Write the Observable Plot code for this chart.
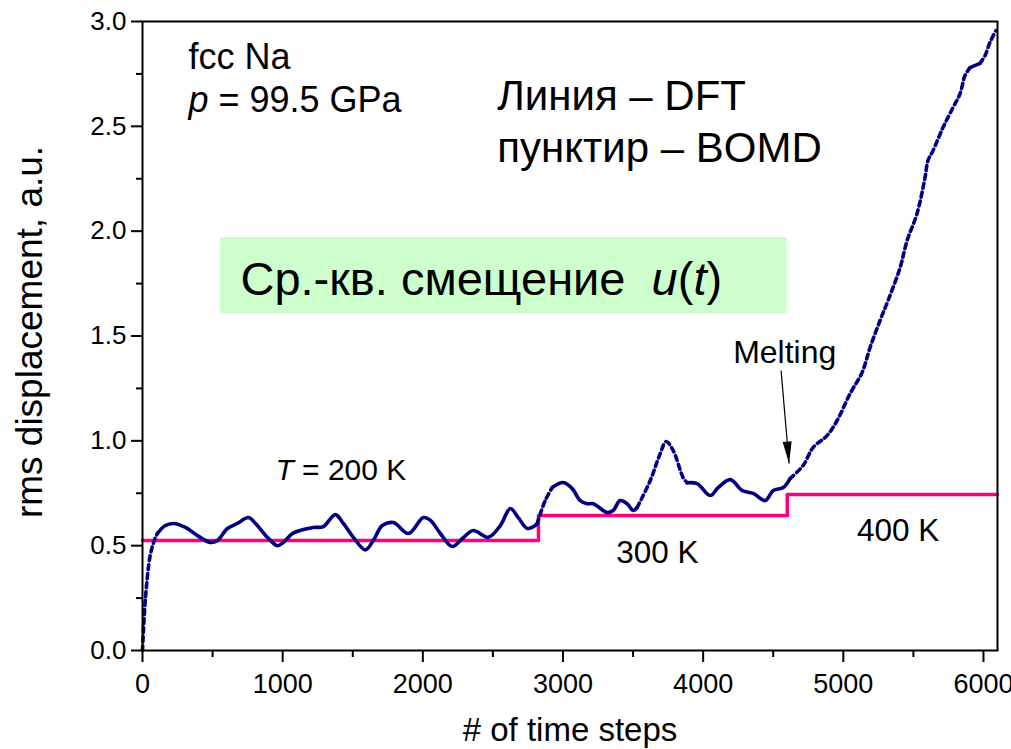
<!DOCTYPE html>
<html>
<head>
<meta charset="utf-8">
<script src="https://cdn.jsdelivr.net/npm/d3@7"></script>
<script src="https://cdn.jsdelivr.net/npm/@observablehq/plot@0.6"></script>
<style>
  body { margin: 0; background: #fff; }
  #chart svg { font-family: "Liberation Sans", Arial, sans-serif; overflow: visible; }
  g[aria-label="x-axis tick label"] text { font-family: "Liberation Sans Narrow", "Liberation Sans", sans-serif; font-size: 27px; }
  g[aria-label="y-axis tick label"] text { font-size: 26px; }
  text { white-space: pre; }
</style>
</head>
<body>
<div id="chart"></div>
<script>
// --- data ---
const steps = [0, 21, 57, 93, 107, 160, 221, 307, 392, 485, 535, 606, 677, 756, 806, 891, 962, 1005, 1070, 1148,
  1219, 1290, 1376, 1433, 1504, 1590, 1647, 1711, 1790, 1897, 2004, 2053, 2125, 2210, 2282, 2360, 2467, 2553, 2624, 2681,
  2745, 2802, 2816, 2873, 2923, 3002, 3066, 3123, 3173, 3216, 3316, 3358, 3408, 3458, 3501, 3529, 3622, 3693, 3736, 3786,
  3857, 3886, 3957, 4050, 4107, 4193, 4278, 4357, 4442, 4500, 4571, 4620, 4713, 4784, 4884, 4956, 5048, 5134, 5191, 5262,
  5319, 5405, 5455, 5526, 5583, 5604, 5640, 5711, 5783, 5833, 5868, 5904, 5975, 6011, 6046, 6089];
const rms = [0.0, 0.25, 0.46, 0.54, 0.558, 0.595, 0.606, 0.587, 0.548, 0.515, 0.525, 0.582, 0.606, 0.634, 0.606, 0.54, 0.50, 0.515, 0.558, 0.577,
  0.587, 0.591, 0.648, 0.606, 0.54, 0.48, 0.525, 0.596, 0.61, 0.558, 0.634, 0.622, 0.558, 0.496, 0.534, 0.572, 0.54, 0.596, 0.677, 0.634,
  0.582, 0.596, 0.606, 0.715, 0.777, 0.801, 0.772, 0.715, 0.70, 0.70, 0.658, 0.668, 0.715, 0.70, 0.668, 0.682, 0.81, 0.938, 0.997, 0.954,
  0.825, 0.80, 0.796, 0.739, 0.777, 0.815, 0.763, 0.749, 0.715, 0.763, 0.777, 0.82, 0.882, 0.968, 1.025, 1.097, 1.225, 1.326, 1.445, 1.574,
  1.669, 1.826, 1.955, 2.084, 2.256, 2.337, 2.384, 2.494, 2.59, 2.656, 2.742, 2.78, 2.80, 2.837, 2.90, 2.957];
// BOMD (dashed) and DFT (solid) intervals, in time steps
const dashedRanges = [[0, 107], [2816, 2923], [3529, 3886], [4620, 5904], [5975, 6100]];
const solidRanges = [[107, 2816], [2923, 3529], [3886, 4620], [5904, 5975]];
// temperature steps (pink)
const tempSteps = [0, 2825, 4600, 6100];
const tempLevel = [0.525, 0.644, 0.744, 0.744];
// ticks
const xMajor = [0, 1000, 2000, 3000, 4000, 5000, 6000];
const xMinor = [500, 1500, 2500, 3500, 4500, 5500];
const yMajor = [0, 0.5, 1.0, 1.5, 2.0, 2.5, 3.0];
const yMinor = [0.25, 0.75, 1.25, 1.75, 2.25, 2.75];
// annotations
const noteText = ["fcc Na", "p = 99.5 GPa", "Линия – DFT", "пунктир – BOMD", "T = 200 K", "300 K", "400 K", "Melting", "Ср.-кв. смещение  u(t)"];
const noteX = [328, 328, 2531, 2531, 948, 3380, 5098, 4214, 699];
const noteY = [2.828, 2.623, 2.642, 2.394, 0.858, 0.467, 0.572, 1.421, 1.769];
const noteSize = [36, 36, 42, 42, 30, 31.5, 31.5, 32, 47];
const boxX = [556, 4599], boxY = [1.607, 1.97];
const arrowFrom = [4556, 1.335], arrowTo = [4613, 0.892];
// italic pieces
const rich = {
  "p = 99.5 GPa": [["p", 1], [" = 99.5 GPa", 0]],
  "T = 200 K": [["T", 1], [" = 200 K", 0]],
  "Ср.-кв. смещение  u(t)": [["Ср.-кв. смещение  ", 0], ["u", 1], ["(", 0], ["t", 1], [")", 0]]
};

// --- build tables ---
const pts = steps.map((s, i) => ({step: s, rms: rms[i]}));
function segs(ranges) {
  const out = [];
  ranges.forEach(([a, b], k) => pts.filter(p => p.step >= a && p.step <= b).forEach(p => out.push({...p, seg: k})));
  return out;
}
const dashed = segs(dashedRanges);
const solid = segs(solidRanges);
const temps = tempSteps.map((s, i) => ({step: s, T: tempLevel[i]}));
const notes = noteText.map((t, i) => ({text: t, x: noteX[i], y: noteY[i], size: noteSize[i]}));

const headSymbol = {
  draw(ctx, size) {
    ctx.moveTo(0, 0);
    ctx.lineTo(-4.5, -22);
    ctx.lineTo(4.5, -22);
    ctx.closePath();
  }
};

const chart = Plot.plot({
  width: 1011,
  height: 749,
  marginLeft: 142,
  marginRight: 14,
  marginTop: 21,
  marginBottom: 99,
  x: {domain: [0, 6100]},
  y: {domain: [0, 3]},
  marks: [
    Plot.rect([0], {x1: () => boxX[0], x2: () => boxX[1], y1: () => boxY[0], y2: () => boxY[1], fill: "#ccffcc"}),
    Plot.line(temps, {x: "step", y: "T", curve: "step-after", stroke: "#ff007f", strokeWidth: 3.5}),
    Plot.line(solid, {x: "step", y: "rms", z: "seg", curve: "catmull-rom", stroke: "#000080", strokeWidth: 3.6}),
    Plot.line(dashed, {x: "step", y: "rms", z: "seg", curve: "catmull-rom", stroke: "#000080", strokeWidth: 3.6, strokeDasharray: "5,4"}),
    Plot.link([0], {x1: () => arrowFrom[0], y1: () => arrowFrom[1], x2: () => arrowTo[0], y2: () => arrowTo[1], stroke: "black", strokeWidth: 1.2}),
    Plot.dot([0], {x: () => arrowTo[0], y: () => arrowTo[1], symbol: headSymbol, r: 5, fill: "black", stroke: "none", rotate: -5}),
    Plot.text(notes, {x: "x", y: "y", text: "text", fontSize: "size", textAnchor: "start", lineAnchor: "middle", fill: "black"}),
    Plot.axisX({ticks: xMajor, tickSize: 12, tickPadding: 11, tickFormat: d3.format("d"), strokeWidth: 2, label: null}),
    Plot.axisX({ticks: xMinor, tickSize: 7, tickFormat: () => "", strokeWidth: 2, label: null}),
    Plot.axisY({ticks: yMajor, tickSize: 11, tickPadding: 5, tickFormat: d3.format(".1f"), strokeWidth: 2, label: null}),
    Plot.axisY({ticks: yMinor, tickSize: 6, tickFormat: () => "", strokeWidth: 2, label: null}),
    Plot.frame({stroke: "black", strokeWidth: 2}),
    Plot.text(["# of time steps"], {frameAnchor: "bottom", textAnchor: "middle", dy: 90, fontSize: 33, text: d => d, fill: "black"}),
    Plot.text(["rms displacement, a.u."], {frameAnchor: "left", textAnchor: "middle", dx: -112, dy: -4, rotate: -90, fontSize: 37, text: d => d, fill: "black"})
  ]
});

// italic parts via tspans
d3.select(chart).selectAll("text").each(function () {
  const parts = rich[this.textContent];
  if (!parts) return;
  const sel = d3.select(this);
  sel.text(null);
  parts.forEach(([s, it]) => sel.append("tspan").attr("font-style", it ? "italic" : null).text(s));
});

document.getElementById("chart").appendChild(chart);
</script>
</body>
</html>
